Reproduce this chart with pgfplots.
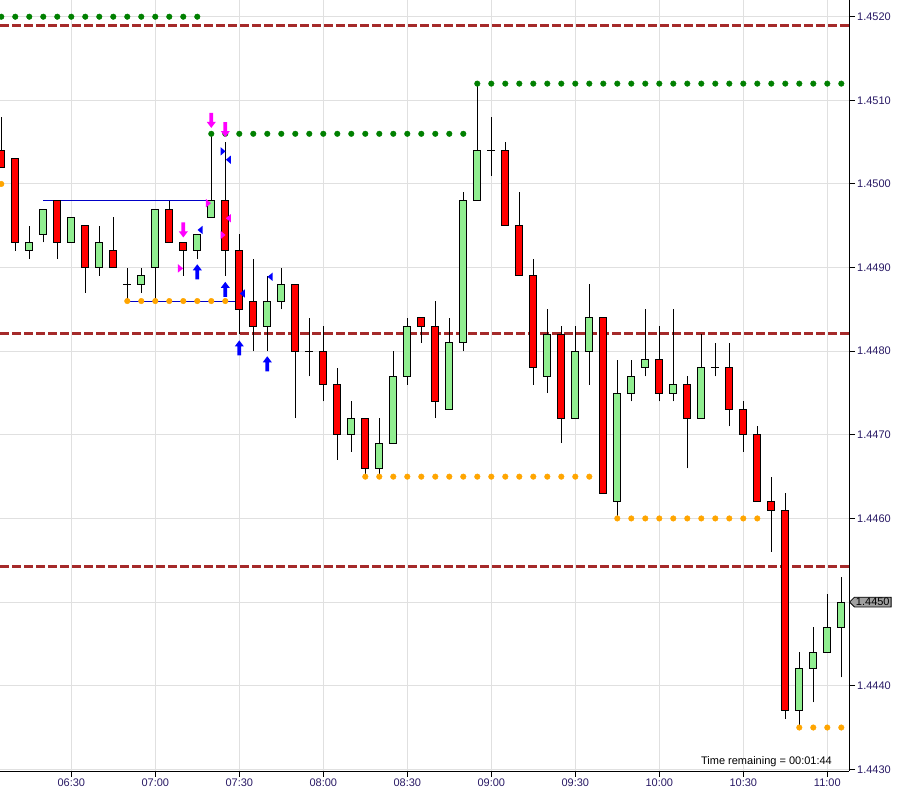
\documentclass[border=0pt]{standalone}
\usepackage{pgfplots}
\pgfplotsset{compat=1.18}
\usepackage{pgfplotstable}
\usepackage{fontspec}
\setmainfont{Liberation Sans}
\usetikzlibrary{shapes.symbols}
\definecolor{upc}{RGB}{144,238,144}
\definecolor{dnc}{RGB}{255,0,0}
\definecolor{pivot}{RGB}{165,42,42}
\definecolor{dotg}{RGB}{0,128,0}
\definecolor{doto}{RGB}{255,165,0}
\definecolor{gridc}{RGB}{224,224,224}
\definecolor{labc}{RGB}{40,25,100}
\definecolor{lineb}{RGB}{0,0,200}
\definecolor{mag}{RGB}{255,0,255}
\definecolor{blu}{RGB}{0,0,255}
\definecolor{pricebox}{RGB}{160,160,160}

\pgfdeclareplotmark{darrow}{%
\pgfpathmoveto{\pgfqpoint{-1.9bp}{7.5bp}}%
\pgfpathlineto{\pgfqpoint{1.9bp}{7.5bp}}%
\pgfpathlineto{\pgfqpoint{1.9bp}{-1.5bp}}%
\pgfpathlineto{\pgfqpoint{4.5bp}{-1.5bp}}%
\pgfpathlineto{\pgfqpoint{0bp}{-7.5bp}}%
\pgfpathlineto{\pgfqpoint{-4.5bp}{-1.5bp}}%
\pgfpathlineto{\pgfqpoint{-1.9bp}{-1.5bp}}%
\pgfpathclose\pgfusepathqfill}
\pgfdeclareplotmark{uarrow}{%
\pgfpathmoveto{\pgfqpoint{-1.9bp}{-7.5bp}}%
\pgfpathlineto{\pgfqpoint{1.9bp}{-7.5bp}}%
\pgfpathlineto{\pgfqpoint{1.9bp}{1.5bp}}%
\pgfpathlineto{\pgfqpoint{4.5bp}{1.5bp}}%
\pgfpathlineto{\pgfqpoint{0bp}{7.5bp}}%
\pgfpathlineto{\pgfqpoint{-4.5bp}{1.5bp}}%
\pgfpathlineto{\pgfqpoint{-1.9bp}{1.5bp}}%
\pgfpathclose\pgfusepathqfill}
\pgfdeclareplotmark{rtri}{%
\pgfpathmoveto{\pgfqpoint{-2.5bp}{4.2bp}}%
\pgfpathlineto{\pgfqpoint{2.5bp}{0bp}}%
\pgfpathlineto{\pgfqpoint{-2.5bp}{-4.2bp}}%
\pgfpathclose\pgfusepathqfill}
\pgfdeclareplotmark{ltri}{%
\pgfpathmoveto{\pgfqpoint{2.5bp}{4.2bp}}%
\pgfpathlineto{\pgfqpoint{-2.5bp}{0bp}}%
\pgfpathlineto{\pgfqpoint{2.5bp}{-4.2bp}}%
\pgfpathclose\pgfusepathqfill}

% up (and doji) candles: t = minutes after 06:00
\pgfplotstableread{
t o h l c
15 1.4492 1.4495 1.4491 1.4493
20 1.4494 1.4497 1.4493 1.4497
30 1.4493 1.4496 1.4493 1.4496
40 1.4490 1.4495 1.4489 1.4493
50 1.4488 1.4490 1.4486 1.4488
55 1.4488 1.4490 1.4487 1.4489
60 1.4490 1.4497 1.4486 1.4497
75 1.4492 1.4494 1.4491 1.4494
80 1.4496 1.4506 1.4496 1.4498
100 1.4483 1.4489 1.4480 1.4486
105 1.4486 1.4490 1.4485 1.4488
115 1.4480 1.4484 1.4477 1.4480
130 1.4470 1.4474 1.4468 1.4472
140 1.4466 1.4472 1.4465 1.4469
145 1.4469 1.4480 1.4469 1.4477
150 1.4477 1.4484 1.4476 1.4483
165 1.4473 1.4484 1.4473 1.4481
170 1.4481 1.4499 1.4480 1.4498
175 1.4498 1.4512 1.4498 1.4504
180 1.4504 1.4508 1.4501 1.4504
200 1.4477 1.4485 1.4475 1.4482
210 1.4472 1.4483 1.4472 1.4480
215 1.4480 1.4488 1.4476 1.4484
225 1.4462 1.4479 1.4460 1.4475
230 1.4475 1.4479 1.4474 1.4477
235 1.4478 1.4485 1.4477 1.4479
245 1.4475 1.4485 1.4474 1.4476
255 1.4472 1.4482 1.4472 1.4478
260 1.4478 1.4481 1.4477 1.4478
290 1.4437 1.4444 1.4435 1.4442
295 1.4442 1.4447 1.4438 1.4444
300 1.4444 1.4451 1.4444 1.4447
305 1.4447 1.4453 1.4441 1.4450
}\upcandles

% down candles
\pgfplotstableread{
t o h l c
5 1.4504 1.4508 1.4502 1.4502
10 1.4503 1.4503 1.4492 1.4493
25 1.4498 1.4498 1.4491 1.4493
35 1.4495 1.4495 1.4487 1.4490
45 1.4492 1.4496 1.4490 1.4490
65 1.4497 1.4498 1.4493 1.4493
70 1.4493 1.4493 1.4489 1.4492
85 1.4498 1.4505 1.4489 1.4492
90 1.4492 1.4494 1.4482 1.4485
95 1.4486 1.4491 1.4480 1.4483
110 1.4488 1.4488 1.4472 1.4480
120 1.4480 1.4483 1.4474 1.4476
125 1.4476 1.4478 1.4467 1.4470
135 1.4472 1.4472 1.4465 1.4466
155 1.4484 1.4484 1.4481 1.4483
160 1.4483 1.4486 1.4472 1.4474
185 1.4504 1.4505 1.4495 1.4495
190 1.4495 1.4499 1.4489 1.4489
195 1.4489 1.4491 1.4476 1.4478
205 1.4482 1.4483 1.4469 1.4472
220 1.4484 1.4484 1.4463 1.4463
240 1.4479 1.4483 1.4474 1.4475
250 1.4476 1.4477 1.4466 1.4472
265 1.4478 1.4481 1.4471 1.4473
270 1.4473 1.4474 1.4468 1.4470
275 1.4470 1.4471 1.4462 1.4462
280 1.4462 1.4465 1.4456 1.4461
285 1.4461 1.4463 1.4436 1.4437
}\dncandles

\begin{document}
\begin{tikzpicture}
\useasboundingbox (0,-27bp) rectangle (902bp,771bp);
\begin{axis}[
  scale only axis, width=849bp, height=771bp,
  xmin=4.54, xmax=307.75, ymin=1.44298, ymax=1.45220,
  axis x line*=bottom, axis y line*=right,
  axis line style={black, line width=1bp},
  xtick={30,60,...,300},
  xticklabels={06:30,07:00,07:30,08:00,08:30,09:00,09:30,10:00,10:30,11:00},
  ytick={1.443,1.444,1.445,1.446,1.447,1.448,1.449,1.450,1.451,1.452},
  scaled y ticks=false,
  yticklabel style={/pgf/number format/.cd, fixed, fixed zerofill, precision=4, assume math mode=true},
  grid=major, major grid style={draw=gridc, line width=1bp},
  tick align=outside, major tick length=6bp, tick style={black, line width=1bp},
  ticklabel style={font=\fontsize{11bp}{13bp}\selectfont, text=labc, inner sep=2bp},
  clip mode=individual,
]
% pivot lines
\addplot[pivot, line width=3bp, dash pattern=on 9bp off 3bp] coordinates {(4.54,1.45189) (307.75,1.45189)};
\addplot[pivot, line width=3bp, dash pattern=on 9bp off 3bp] coordinates {(4.54,1.44821) (307.75,1.44821)};
\addplot[pivot, line width=3bp, dash pattern=on 9bp off 3bp] coordinates {(4.54,1.44543) (307.75,1.44543)};
% thin blue lines
\addplot[lineb, line width=1bp] coordinates {(20,1.4498) (79,1.4498)};
\addplot[lineb, line width=1bp] coordinates {(50,1.4486) (89,1.4486)};

% wicks
\addplot[draw=none, mark=none, error bars/.cd, y dir=plus, y explicit, error mark=none,
  error bar style={draw=black, line width=1bp}]
  table[x=t, y=l, y error plus expr=\thisrow{h}-\thisrow{l}] {\upcandles};
\addplot[draw=none, mark=none, error bars/.cd, y dir=plus, y explicit, error mark=none,
  error bar style={draw=black, line width=1bp}]
  table[x=t, y=l, y error plus expr=\thisrow{h}-\thisrow{l}] {\dncandles};
% body borders
\addplot[draw=none, mark=none, error bars/.cd, y dir=both, y explicit, error mark=none,
  error bar style={draw=black, line width=8bp}]
  table[x=t, y=o, y error plus expr=\thisrow{c}-\thisrow{o}, y error minus expr=0] {\upcandles};
\addplot[draw=none, mark=none, error bars/.cd, y dir=both, y explicit, error mark=none,
  error bar style={draw=black, line width=8bp}]
  table[x=t, y=c, y error plus expr=\thisrow{o}-\thisrow{c}, y error minus expr=0] {\dncandles};
% body fills, with top and bottom edges
\addplot[draw=none, mark=none, error bars/.cd, y dir=both, y explicit, error mark=|,
  error mark options={draw=black, line width=1bp, mark size=4bp},
  error bar style={draw=upc, line width=6bp}]
  table[x=t, y=o, y error plus expr=\thisrow{c}-\thisrow{o}, y error minus expr=0] {\upcandles};
\addplot[draw=none, mark=none, error bars/.cd, y dir=both, y explicit, error mark=|,
  error mark options={draw=black, line width=1bp, mark size=4bp},
  error bar style={draw=dnc, line width=6bp}]
  table[x=t, y=c, y error plus expr=\thisrow{o}-\thisrow{c}, y error minus expr=0] {\dncandles};

% green dots
\addplot[only marks, mark=*, mark size=2.8bp, color=dotg] coordinates {
(5,1.4520) (10,1.4520) (15,1.4520) (20,1.4520) (25,1.4520) (30,1.4520) (35,1.4520) (40,1.4520)
(45,1.4520) (50,1.4520) (55,1.4520) (60,1.4520) (65,1.4520) (70,1.4520) (75,1.4520)};
\addplot[only marks, mark=*, mark size=2.8bp, color=dotg] coordinates {
(80,1.4506) (85,1.4506) (90,1.4506) (95,1.4506) (100,1.4506) (105,1.4506) (110,1.4506)
(115,1.4506) (120,1.4506) (125,1.4506) (130,1.4506) (135,1.4506) (140,1.4506) (145,1.4506)
(150,1.4506) (155,1.4506) (160,1.4506) (165,1.4506) (170,1.4506)};
\addplot[only marks, mark=*, mark size=2.8bp, color=dotg] coordinates {
(175,1.4512) (180,1.4512) (185,1.4512) (190,1.4512) (195,1.4512) (200,1.4512) (205,1.4512)
(210,1.4512) (215,1.4512) (220,1.4512) (225,1.4512) (230,1.4512) (235,1.4512) (240,1.4512)
(245,1.4512) (250,1.4512) (255,1.4512) (260,1.4512) (265,1.4512) (270,1.4512) (275,1.4512)
(280,1.4512) (285,1.4512) (290,1.4512) (295,1.4512) (300,1.4512) (305,1.4512)};
% orange dots
\addplot[only marks, mark=*, mark size=2.8bp, color=doto] coordinates {(5,1.4500)};
\addplot[only marks, mark=*, mark size=2.8bp, color=doto] coordinates {
(50,1.4486) (55,1.4486) (60,1.4486) (65,1.4486) (70,1.4486) (75,1.4486) (80,1.4486) (85,1.4486)};
\addplot[only marks, mark=*, mark size=2.8bp, color=doto] coordinates {
(135,1.4465) (140,1.4465) (145,1.4465) (150,1.4465) (155,1.4465) (160,1.4465) (165,1.4465)
(170,1.4465) (175,1.4465) (180,1.4465) (185,1.4465) (190,1.4465) (195,1.4465) (200,1.4465)
(205,1.4465) (210,1.4465) (215,1.4465)};
\addplot[only marks, mark=*, mark size=2.8bp, color=doto] coordinates {
(225,1.4460) (230,1.4460) (235,1.4460) (240,1.4460) (245,1.4460) (250,1.4460) (255,1.4460)
(260,1.4460) (265,1.4460) (270,1.4460) (275,1.4460)};
\addplot[only marks, mark=*, mark size=2.8bp, color=doto] coordinates {
(290,1.4435) (295,1.4435) (300,1.4435) (305,1.4435)};

% signal arrows and triangles
\addplot[only marks, mark=darrow, color=mag] coordinates {(80,1.45076) (85,1.45065) (70,1.44945)};
\addplot[only marks, mark=uarrow, color=blu] coordinates {(75,1.44895) (85,1.44874) (90,1.44804) (100,1.44785)};
\addplot[only marks, mark=rtri, color=mag] coordinates {(69,1.44899) (79,1.44977) (84.2,1.44939)};
\addplot[only marks, mark=ltri, color=mag] coordinates {(86.1,1.44959)};
\addplot[only marks, mark=rtri, color=blu] coordinates {(84.2,1.45039)};
\addplot[only marks, mark=ltri, color=blu] coordinates {(76,1.44945) (86.1,1.45029) (91.1,1.44869) (101,1.44889)};

\node[anchor=base east, font=\fontsize{11bp}{13bp}\selectfont, inner sep=0pt] at (axis cs:301.7,1.44306) {Time remaining = 00:01:44};
\node[signal, signal to=west, draw=black, line width=0.8bp, fill=pricebox, inner xsep=1.5bp, inner ysep=1bp,
  anchor=west, font=\fontsize{11bp}{13bp}\selectfont] at (axis cs:307.75,1.4450) {1.4450};
\end{axis}
\end{tikzpicture}
\end{document}
